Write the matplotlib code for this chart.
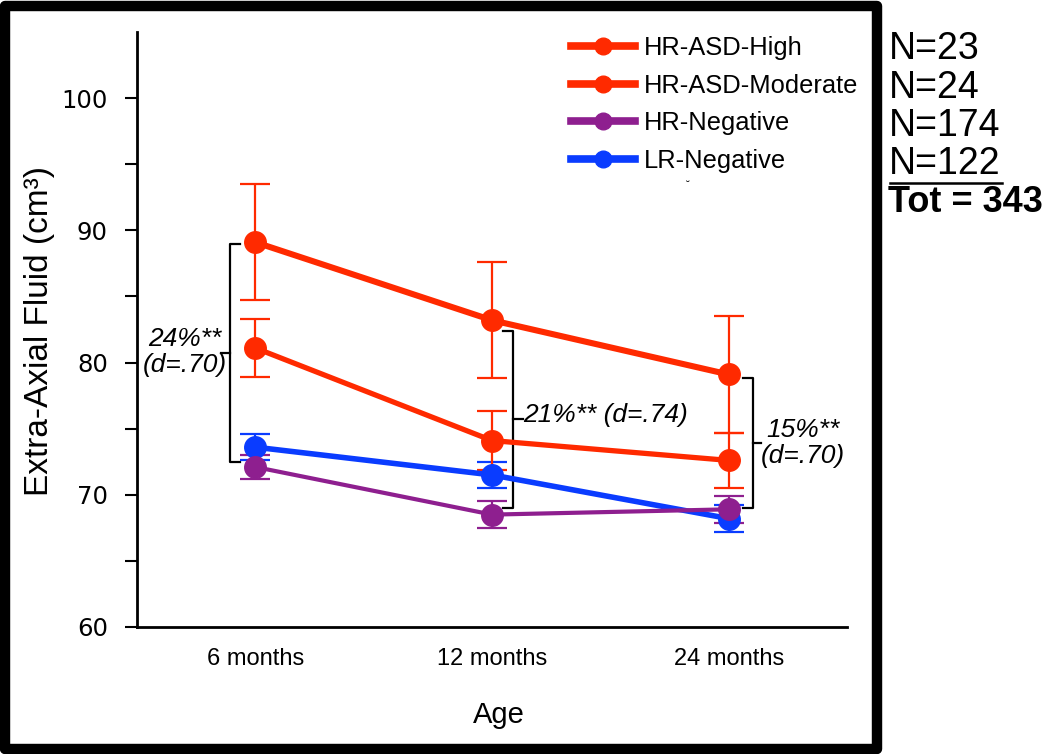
import matplotlib.pyplot as plt
from matplotlib.lines import Line2D
from matplotlib.patches import Rectangle

# data
ages = ['6 months', '12 months', '24 months']
groups = ['HR-ASD-High', 'HR-ASD-Moderate', 'HR-Negative', 'LR-Negative']
n_per_group = [23, 24, 174, 122]
asd_high = [89.1, 83.2, 79.1]
asd_high_err = [4.4, 4.4, 4.4]
asd_mod = [81.1, 74.1, 72.6]
asd_mod_err = [2.2, 2.2, 2.1]
hr_neg = [72.1, 68.5, 68.9]
hr_neg_err = [0.9, 1.0, 1.0]
lr_neg = [73.6, 71.5, 68.2]
lr_neg_err = [1.0, 1.0, 1.0]

red = '#ff2a00'
purple = '#8e1f8f'
blue = '#0a3cff'

fig = plt.figure(figsize=(10.51, 7.54), dpi=100)
ax = fig.add_axes([137 / 1051, 127 / 754, 710 / 1051, 595 / 754])
x = list(range(len(ages)))

series = [
    (lr_neg, lr_neg_err, blue, 4.0),
    (hr_neg, hr_neg_err, purple, 3.0),
    (asd_mod, asd_mod_err, red, 3.8),
    (asd_high, asd_high_err, red, 4.4),
]
for vals, err, c, lw in series:
    ax.errorbar(x, vals, yerr=err, color=c, lw=lw, marker='o', ms=15.5,
                mec=c, elinewidth=1.6, capsize=11, capthick=1.6, zorder=3)

ax.set_xlim(-0.5, 2.5)
ax.set_ylim(60, 105)
ax.set_yticks([60, 70, 80, 90, 100])
ax.set_yticks([65, 75, 85, 95], minor=True)
ax.set_xticks(x)
ax.set_xticklabels(ages, fontsize=17, family='Liberation Sans')
ax.tick_params(axis='x', length=0, pad=15)
ax.tick_params(axis='y', which='both', length=9, width=1.5, direction='out', pad=12, labelsize=17.5)
for s in ['top', 'right']:
    ax.spines[s].set_visible(False)
for s in ['left', 'bottom']:
    ax.spines[s].set_linewidth(2)

# brackets with effect sizes
def bracket(xv, y0, y1, hook, nub):
    ym = (y0 + y1) / 2
    ax.plot([xv + hook, xv, xv, xv + hook], [y0, y0, y1, y1], color='black', lw=1.6, clip_on=False)
    ax.plot([xv, xv + nub], [ym, ym], color='black', lw=1.6, clip_on=False)

bracket(-0.106, 89.0, 72.5, 0.042, -0.04)
bracket(1.089, 82.4, 69.0, -0.042, 0.04)
bracket(2.101, 78.8, 69.0, -0.042, 0.035)

tfont = dict(fontsize=19, style='italic', family='Liberation Sans', va='center')
ax.text(-0.30, 80.8, '24%**\n(d=.70)', ha='center', linespacing=1.1, **tfont)
ax.text(1.13, 76.0, '21%** (d=.74)', ha='left', **tfont)
ax.text(2.313, 73.9, '15%**\n(d=.70)', ha='center', linespacing=1.1, **tfont)

# legend
handles = [Line2D([0], [0], color=c, lw=5.5, marker='o', ms=12) for c in [red, red, purple, blue]]
fig.legend(handles, groups, loc='upper left', bbox_to_anchor=(571 / 1051, 1 - 36 / 754),
           frameon=False, prop={'family': 'Liberation Sans', 'size': 18.4},
           handlelength=2.5, handletextpad=0.35, labelspacing=0.53, borderpad=0, borderaxespad=0)

# axis titles
fig.text(40 / 1051, 1 - 331 / 754, 'Extra-Axial Fluid (cm³)', rotation=90, ha='center', va='center',
         fontsize=24, family='Liberation Sans')
fig.text(499 / 1051, 1 - 715 / 754, 'Age', ha='center', va='center', fontsize=21, family='Liberation Sans')
fig.text(688 / 1051, 1 - 186 / 754, '˘', ha='center', va='center', fontsize=8)

# sample sizes
for i, n in enumerate(n_per_group):
    fig.text(889 / 1051, 1 - (49 + 38.5 * i) / 754, 'N=%d' % n, ha='left', va='center',
             fontsize=27, family='Liberation Sans')
fig.lines.append(Line2D([890 / 1051, 1002 / 1051], [1 - 183 / 754, 1 - 183 / 754], color='black',
                        lw=1.8, transform=fig.transFigure))
fig.text(888 / 1051, 1 - 203 / 754, 'Tot = %d' % sum(n_per_group), ha='left', va='center',
         fontsize=26, weight='bold', family='Liberation Sans')

# black frame around the plot panel
fig.patches.append(Rectangle((5 / 1051, 5 / 754), 871.5 / 1051, 743 / 754, fill=False,
                             ec='black', lw=7.5, joinstyle='round', transform=fig.transFigure))

fig.savefig('out.png', dpi=100)
